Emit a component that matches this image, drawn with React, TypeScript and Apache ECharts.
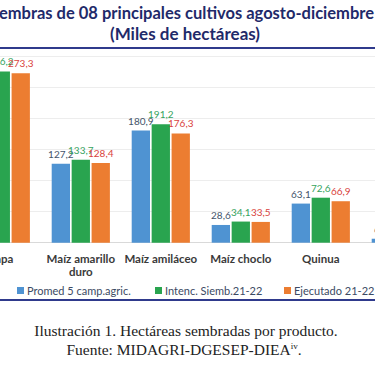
import React, { useEffect, useRef } from "react";
import * as echarts from "echarts";

const categories = ["Papa", "Maíz amarillo\nduro", "Maíz amiláceo", "Maíz choclo", "Quinua", "Kiwicha"];
const seriesNames = ["Promed 5 camp.agric.", "Intenc. Siemb.21-22", "Ejecutado 21-22"];
const promedio = [266.5, 127.2, 180.9, 28.6, 63.1, 6.4];
const intencion = [276.2, 133.7, 191.2, 34.1, 72.6, 7.1];
const ejecutado = [273.3, 128.4, 176.3, 33.5, 66.9, 6.8];
const barColors = ["#4f93d2", "#29a44f", "#ec7d31"];
const labelColors = ["#44546a", "#35a35e", "#d9423c"];
const titleLine1 = "Siembras de 08 principales cultivos agosto-diciembre";
const titleLine2 = "(Miles de hectáreas)";
const captionLine1 = "Ilustración 1. Hectáreas sembradas por producto.";
const captionLine2 = "Fuente: MIDAGRI-DGESEP-DIEA";

export default function App() {
  const ref = useRef<HTMLDivElement>(null);
  useEffect(() => {
    document.body.style.margin = "0";
    const chart = echarts.init(ref.current!, null, { renderer: "svg" });
    const values = [promedio, intencion, ejecutado];
    const fmt = (p: any) => Number(p.value).toFixed(1).replace(".", ",");
    const legendLefts = [17, 155, 284];
    chart.setOption({
      animation: false,
      backgroundColor: "#ffffff",
      grid: {
        left: -39.2,
        top: 56.7,
        width: 480,
        height: 186,
        containLabel: false,
        outerBoundsMode: "none",
      },
      xAxis: {
        type: "category",
        data: categories,
        axisTick: { show: false },
        axisLine: { lineStyle: { color: "#d9d9d9" } },
        axisLabel: {
          interval: 0,
          margin: 9,
          fontFamily: "Lato",
          fontWeight: "bold",
          fontSize: 11.5,
          lineHeight: 13,
          color: "#3a3a3a",
        },
      },
      yAxis: {
        type: "value",
        min: 0,
        max: 300,
        interval: 50,
        axisLabel: { show: false },
        axisLine: { show: false },
        axisTick: { show: false },
        splitLine: { lineStyle: { color: "#ededed" } },
      },
      legend: seriesNames.map((n, i) => ({
        data: [n],
        left: legendLefts[i],
        top: 285,
        icon: "rect",
        itemWidth: 7,
        itemHeight: 7,
        itemGap: 0,
        padding: 0,
        textStyle: { fontFamily: "Lato", fontSize: 11, color: "#3b4a63", padding: [0, 0, 0, -2] },
      })),
      series: seriesNames.map((n, i) => ({
        type: "bar",
        name: n,
        data: values[i],
        barWidth: 18.3,
        barGap: "9%",
        itemStyle: { color: barColors[i] },
        label: {
          show: true,
          position: "top",
          distance: 5,
          formatter: fmt,
          fontFamily: "Lato",
          fontSize: 10,
          color: labelColors[i],
        },
      })),
      graphic: [
        {
          type: "text",
          x: 374,
          y: 13,
          style: {
            text: titleLine1,
            align: "right",
            verticalAlign: "middle",
            font: "bold 16.5px Lato",
            fill: "#1f2a6a",
          },
        },
        {
          type: "text",
          x: 185,
          y: 33,
          style: {
            text: titleLine2,
            align: "center",
            verticalAlign: "middle",
            font: "bold 17px Lato",
            fill: "#1f2a6a",
          },
        },
        { type: "line", shape: { x1: 0, y1: 48, x2: 375, y2: 48 }, style: { stroke: "#2f3a8c", lineWidth: 2 } },
        { type: "line", shape: { x1: 0, y1: 300, x2: 375, y2: 300 }, style: { stroke: "#2f3a8c", lineWidth: 2 } },
        {
          type: "text",
          x: 186,
          y: 330,
          style: {
            text: captionLine1,
            align: "center",
            verticalAlign: "middle",
            font: "15.5px 'Liberation Serif'",
            fill: "#222222",
          },
        },
        {
          type: "text",
          x: 184,
          y: 349,
          style: {
            text: captionLine2 + "{sup|iv}.",
            align: "center",
            verticalAlign: "middle",
            font: "15.5px 'Liberation Serif'",
            fill: "#222222",
            rich: {
              sup: { fontSize: 9, fontFamily: "Liberation Serif", verticalAlign: "top", fill: "#222222" },
            },
          },
        },
      ],
    });
    return () => chart.dispose();
  }, []);
  return <div ref={ref} style={{ width: 375, height: 366 }} />;
}
